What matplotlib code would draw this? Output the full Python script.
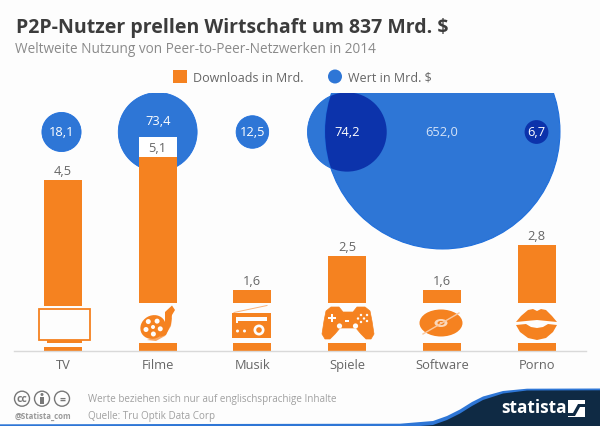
import numpy as np
import matplotlib
matplotlib.use("Agg")
import matplotlib.pyplot as plt
from matplotlib.patches import Circle, Ellipse, Polygon, Rectangle

categories = ["TV", "Filme", "Musik", "Spiele", "Software", "Porno"]
downloads = [4.5, 5.1, 1.6, 2.5, 1.6, 2.8]
wert = [18.1, 73.4, 12.5, 74.2, 652.0, 6.7]

title = "P2P-Nutzer prellen Wirtschaft um 837 Mrd. $"
subtitle = "Weltweite Nutzung von Peer-to-Peer-Netzwerken in 2014"
note = "Werte beziehen sich nur auf englischsprachige Inhalte"
source = "Quelle: Tru Optik Data Corp"

ORANGE = "#f58220"
BLUE = "#2e76d6"
DARK = "#0c33ab"
BG = "#fdfdfd"
NAVY = "#0f2a44"
TXT = "#666666"

plt.rcParams["font.family"] = ["Open Sans", "DejaVu Sans"]

W, H = 600, 427
BASE, TOP = 352, 94
PX_PER_UNIT = 38.0
BUBBLE_K = 4.6
BUBBLE_Y = 133

fig = plt.figure(figsize=(6, 4.27), dpi=100, facecolor=BG)
rect = [0, (H - BASE) / H, 1, (BASE - TOP) / H]

# bubbles sit below the bars, axes top cuts off the big one
ax_b = fig.add_axes(rect, zorder=1)
ax_b.set_xlim(0, W)
ax_b.set_ylim(BASE, TOP)
ax_b.axis("off")

ax = fig.add_axes(rect, zorder=2)
ax.set_xlim(0, W)
ax.set_ylim(0, (BASE - TOP) / PX_PER_UNIT)
ax.axis("off")

# overlay in pixel coordinates for text and icons
ov = fig.add_axes([0, 0, 1, 1], zorder=3)
ov.set_xlim(0, W)
ov.set_ylim(H, 0)
ov.axis("off")

x = 63 + 94.7 * np.arange(len(categories))

radii = BUBBLE_K * np.sqrt(wert)
big_i = int(np.argmax(wert))
big = Circle((442.5, 132.5), radii[big_i], fc=BLUE, ec="#1f6fdc", lw=0.8, zorder=2)
ax_b.add_patch(big)
for i, r in enumerate(radii):
    if i == big_i:
        continue
    cx = x[i] - 1.5 if i == 0 else x[i]
    if i == 3:
        ax_b.add_patch(Circle((cx, BUBBLE_Y), r, fc=BLUE, ec="#1f6fdc", lw=0.6, zorder=1))
        over = Circle((cx, BUBBLE_Y), r, fc=DARK, ec="none", zorder=3)
        ax_b.add_patch(over)
        over.set_clip_path(big)
    elif i == 5:
        ax_b.add_patch(Circle((cx, BUBBLE_Y), r, fc=DARK, ec="none", zorder=3))
    else:
        ax_b.add_patch(Circle((cx, BUBBLE_Y), r, fc=BLUE, ec="#1f6fdc", lw=0.6, zorder=3))

for i, v in enumerate(wert):
    cx = 442 if i == big_i else x[i] - (1.5 if i == 0 else 0)
    cy = 122 if i == 1 else BUBBLE_Y
    col = "#d5e3f7" if i == big_i else "white"
    ax_b.text(cx, cy, f"{v:.1f}".replace(".", ","), color=col, fontsize=9.3,
              ha="center", va="center", zorder=5)

ax.bar(x, downloads, width=38, color=ORANGE, linewidth=0)
for xi, d in zip(x, downloads):
    if d > 5:
        ax.add_patch(Rectangle((xi - 19, d), 38, 20 / PX_PER_UNIT, fc="white", ec="none"))
    ax.annotate(f"{d:.1f}".replace(".", ","), (xi, d), xytext=(0, 2), textcoords="offset points",
                ha="center", va="bottom", fontsize=9.3, color=TXT)

# gaps in the bars for the icons
for i, xi in enumerate(x):
    if i == 0:
        ov.add_patch(Rectangle((xi - 27, 306.5), 54, 41, fc=BG, ec="none"))
    else:
        ov.add_patch(Rectangle((xi - 27, 304.3), 54, 40, fc=BG, ec="none"))

ov.plot([14, 586], [352.3, 352.3], color="#d9d9d9", lw=1.0)
for xi, c in zip(x, categories):
    ov.text(xi, 365.5, c, ha="center", va="center", fontsize=9.3, color=TXT)


def white_dots(pts, r):
    for p in pts:
        ov.add_patch(Circle(p, r, fc=BG, ec="none"))


# TV
ov.add_patch(Rectangle((39, 310), 51, 31, fc="none", ec=ORANGE, lw=1.3))
ov.add_patch(Rectangle((46.5, 341), 35, 2.5, fc=ORANGE, ec="none"))

# Filmrolle
ov.add_patch(Polygon([(147, 341), (156, 342), (165, 337), (171, 327), (172, 318), (168, 322),
                      (163, 333), (153, 339)], fc="#f9a765", ec="none"))
ov.add_patch(Polygon([(165, 313), (172, 306.5), (175, 311), (172, 316), (171, 325), (166, 336),
                      (160, 338), (165, 326)], fc=ORANGE, ec="none"))
ov.add_patch(Ellipse((153, 328), 26, 23, angle=-30, fc=ORANGE, ec="none"))
white_dots([(153, 328)], 2.0)
a = np.radians(np.arange(0, 360, 72) + 15)
white_dots(list(zip(153 + 7.5 * np.cos(a), 328 + 7 * np.sin(a))), 2.5)

# Radio
ov.plot([234, 267], [313.5, 306.5], color="#f9b27a", lw=0.7)
ov.add_patch(Rectangle((232, 314), 39, 25, fc=ORANGE, ec="none"))
ov.add_patch(Rectangle((236, 318), 31, 4, fc=BG, ec="none"))
ov.add_patch(Rectangle((236, 318), 1.5, 6, fc=BG, ec="none"))
white_dots([(237.5, 332), (244.5, 332)], 1.5)
ov.add_patch(Circle((259, 331), 5.5, fc=BG, ec="none"))
ov.add_patch(Circle((259, 331), 2.8, fc=ORANGE, ec="none"))

# Gamepad
pad = [(331, 308), (339, 308), (343, 313), (353, 313), (357, 308), (365, 308), (370, 312), (372, 322),
       (374, 335), (371, 340), (366, 340), (361, 335), (356, 329), (340, 329), (335, 335), (330, 340),
       (325, 340), (322, 335), (324, 322), (326, 312)]
ov.add_patch(Polygon(pad, fc=ORANGE, ec=ORANGE, lw=0.5, joinstyle="round"))
ov.add_patch(Rectangle((328, 317.5), 8, 2.6, fc=BG, ec="none"))
ov.add_patch(Rectangle((330.7, 315), 2.6, 8, fc=BG, ec="none"))
ov.add_patch(Rectangle((345, 321.3), 4, 1.2, fc=BG, ec="none"))
white_dots([(339.5, 327), (355.5, 327)], 2.6)
white_dots([(361, 316), (358, 319.5), (364, 319.5), (361, 323), (367, 316), (367, 322)], 1.2)

# CD
ov.add_patch(Ellipse((441, 324), 43, 27, fc=ORANGE, ec="none"))
ov.plot([423, 459], [335, 314], color="#fbc9a0", lw=1.0)
ov.add_patch(Ellipse((441, 324), 13, 8, fc="#fbd9bc", ec="none"))
ov.add_patch(Ellipse((441, 324), 7, 4.2, fc=ORANGE, ec="none"))
ov.add_patch(Ellipse((441, 324), 2.5, 1.5, fc=BG, ec="none"))

# Lippen
ov.add_patch(Polygon([(516, 323), (521, 317), (528, 311), (533, 310), (537, 312), (541, 310), (546, 311),
                      (552, 317), (557, 323), (547, 322), (537, 321), (526, 322)], fc=ORANGE, ec="none"))
ov.add_patch(Polygon([(516, 326), (526, 325), (531, 328), (537, 329), (543, 328), (548, 325), (557, 326),
                      (553, 333), (546, 339), (537, 341), (528, 339), (520, 333)], fc=ORANGE, ec="none"))

ov.text(16, 28, title, fontsize=14.0, fontweight="bold", color="#3c3c3c", va="center")
ov.text(15, 49.5, subtitle, fontsize=9.8, color="#8a8a8a", va="center")

# legend
ov.add_patch(Rectangle((173, 71), 14, 13, fc=ORANGE, ec="none"))
ov.text(193, 78.5, "Downloads in Mrd.", fontsize=9.0, color=TXT, va="center")
ov.add_patch(Circle((335, 77.5), 7, fc=BLUE, ec="none"))
ov.text(348, 78.5, "Wert in Mrd. $", fontsize=9.0, color=TXT, va="center")

# footer
ov.text(88, 400, note, fontsize=7.15, color="#a0a0a0", va="center")
ov.text(88, 416.5, source, fontsize=7.15, color="#a0a0a0", va="center")
for cx, s in zip([22, 42, 62], ["cc", "", "="]):
    ov.add_patch(Circle((cx, 399.7), 7.5, fc="none", ec="#777777", lw=1.0))
    if s:
        ov.text(cx, 400, s, fontsize=7.5, fontweight="bold", color="#777777", ha="center", va="center")
ov.add_patch(Circle((42, 395.5), 1.5, fc="#777777", ec="none"))
ov.add_patch(Rectangle((40.2, 397.5), 3.6, 7, fc="#777777", ec="none"))
ov.text(15, 416, "@Statista_com", fontsize=5.6, fontweight="bold", color="#999999", va="center")

# blue band with the navy swoosh under it
blue_top = [(0, 425.3), (400, 424.7), (433, 422), (447, 417), (460, 410.5), (472, 403), (483, 397.5),
            (503, 392), (527, 389.7), (600, 389.5)]
navy_top = [(420, 427), (433, 426), (447, 421), (460, 414.5), (472, 407), (483, 401), (503, 394.5),
            (527, 391.5), (600, 391.3)]
ov.add_patch(Polygon(blue_top + [(600, 427), (0, 427)], fc="#2e76d6", ec="none"))
ov.add_patch(Polygon(navy_top + [(600, 427)], fc=NAVY, ec="none"))
ov.text(533.5, 408.5, "statista", fontsize=12.4, fontweight="bold", color="white", ha="center", va="center")
ov.add_patch(Rectangle((568, 401), 17, 17, fc="white", ec="none"))
ov.add_patch(Polygon([(568, 414), (573, 414), (578, 405), (585, 405), (585, 408), (580, 408), (575, 417), (568, 417)],
                     fc=NAVY, ec="none"))

fig.savefig("out.png", dpi=100, facecolor=BG)
